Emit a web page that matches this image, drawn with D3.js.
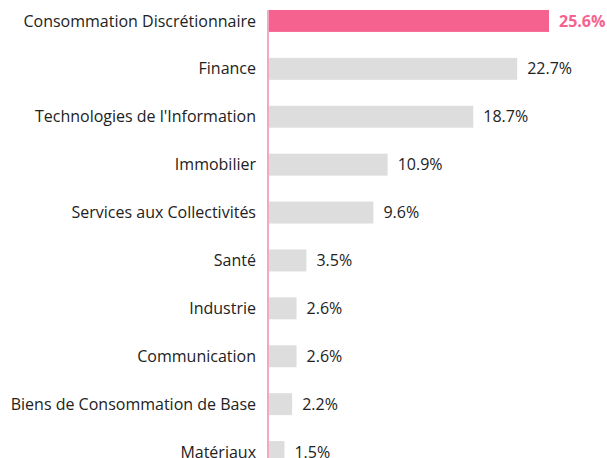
<!DOCTYPE html>
<html>
<head>
<meta charset="utf-8">
<script src="https://cdn.jsdelivr.net/npm/d3@7"></script>
<style>
  html, body { margin: 0; padding: 0; background: #fff; overflow: hidden; }
  svg { display: block; font-family: "Open Sans", sans-serif; }
</style>
</head>
<body>
<svg id="chart" width="607" height="458"></svg>
<script>
const secteurs = ["Consommation Discrétionnaire", "Finance", "Technologies de l'Information",
  "Immobilier", "Services aux Collectivités", "Santé", "Industrie", "Communication",
  "Biens de Consommation de Base", "Matériaux"];
const poids = [25.6, 22.7, 18.7, 10.9, 9.6, 3.5, 2.6, 2.6, 2.2, 1.5];

const svg = d3.select("#chart");
const x0 = 268;

const x = d3.scaleLinear().domain([0, 25.6]).range([x0, 549]);
const y = d3.scaleBand()
  .domain(secteurs)
  .range([-3, 476])
  .paddingInner(0.5417)
  .paddingOuter(0.2708);

const data = secteurs.map((s, i) => ({ name: s, value: poids[i], top: i === 0 }));

svg.selectAll("rect.bar")
  .data(data)
  .enter()
  .append("rect")
  .attr("class", "bar")
  .attr("x", x0)
  .attr("y", d => y(d.name))
  .attr("width", d => x(d.value) - x0)
  .attr("height", y.bandwidth())
  .attr("fill", d => d.top ? "#f6628f" : "#dddddd");

// axe vertical
svg.append("line")
  .attr("x1", x0).attr("x2", x0)
  .attr("y1", y(secteurs[0]))
  .attr("y2", 458)
  .attr("stroke", "#f4a7c0")
  .attr("stroke-width", 2);

svg.selectAll("text.cat")
  .data(data)
  .enter()
  .append("text")
  .attr("class", "cat")
  .attr("x", 256)
  .attr("y", d => y(d.name) + y.bandwidth() / 2)
  .attr("dy", "0.35em")
  .attr("text-anchor", "end")
  .attr("font-size", 16)
  .attr("fill", "#222")
  .text(d => d.name);

svg.selectAll("text.val")
  .data(data)
  .enter()
  .append("text")
  .attr("class", "val")
  .attr("x", d => x(d.value) + 10)
  .attr("y", d => y(d.name) + y.bandwidth() / 2)
  .attr("dy", "0.35em")
  .attr("font-size", 16)
  .attr("font-weight", d => d.top ? "bold" : "normal")
  .attr("fill", d => d.top ? "#f6628f" : "#222")
  .text(d => d.value.toFixed(1) + "%");
</script>
</body>
</html>
